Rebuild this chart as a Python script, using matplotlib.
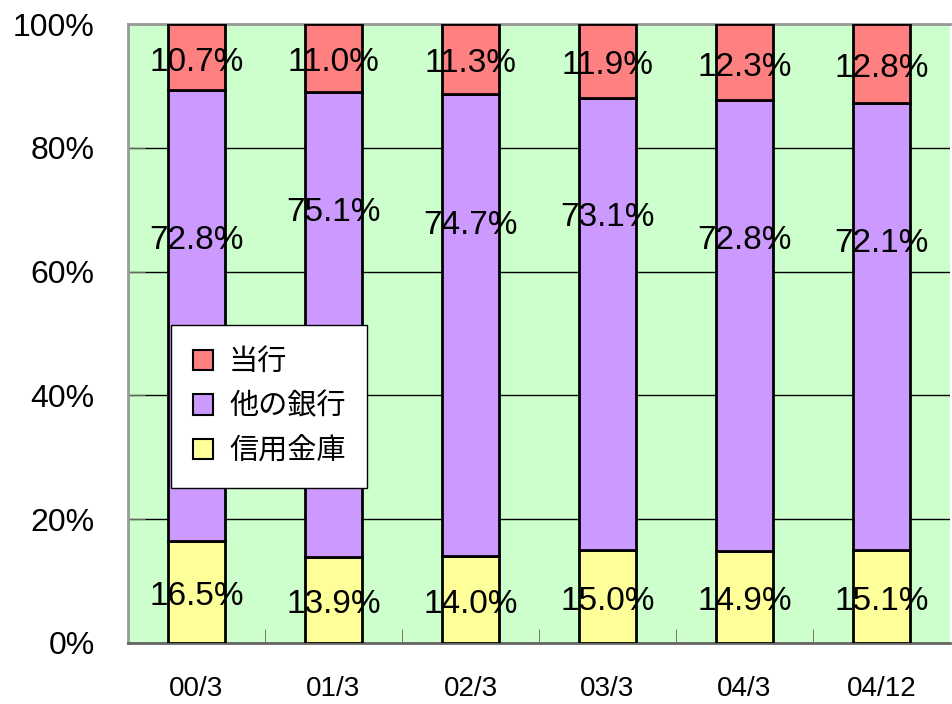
import matplotlib
matplotlib.use("Agg")
import matplotlib.pyplot as plt
import numpy as np

plt.rcParams['font.family'] = ['Liberation Sans', 'Noto Sans CJK JP', 'DejaVu Sans']

periods = ["00/3", "01/3", "02/3", "03/3", "04/3", "04/12"]
shinkin = [16.5, 13.9, 14.0, 15.0, 14.9, 15.1]
other_banks = [72.8, 75.1, 74.7, 73.1, 72.8, 72.1]
our_bank = [10.7, 11.0, 11.3, 11.9, 12.3, 12.8]
# where the middle labels sit in the original (percent height)
mid_label_y = [65.0, 69.6, 67.5, 68.7, 65.1, 64.6]

series = [("信用金庫", shinkin, "#FFFF99"),
          ("他の銀行", other_banks, "#CC99FF"),
          ("当行", our_bank, "#FF8080")]

fig = plt.figure(figsize=(9.53, 7.04), dpi=100)
ax = fig.add_axes([128/953, 1-643/704, 822/953, 619/704])
ax.set_facecolor("#CCFFCC")

x = np.arange(len(periods))
bottom = np.zeros(len(periods))
handles = {}
for name, vals, col in series:
    vals = np.array(vals)
    b = ax.bar(x, vals, width=0.41, bottom=bottom, color=col,
               edgecolor="black", linewidth=2, zorder=3)
    handles[name] = b
    for i, (v, b0) in enumerate(zip(vals, bottom)):
        ypos = mid_label_y[i] if name == "他の銀行" else b0 + v / 2 - 0.8
        ax.text(x[i], ypos, f"{v:.1f}%", ha="center", va="center",
                fontsize=24, zorder=4)
    bottom += vals

ax.set_xlim(-0.5, len(periods) - 0.5)
ax.set_ylim(0, 100)
ax.set_yticks([0, 20, 40, 60, 80, 100])
ax.set_yticklabels([f"{v}%" for v in [0, 20, 40, 60, 80, 100]], fontsize=23)
ax.set_xticks(x)
ax.set_xticklabels(periods, fontsize=20)
ax.set_xticks(np.arange(0.5, len(periods) - 0.5), minor=True)
ax.tick_params(axis="x", which="major", length=0, pad=24)
ax.tick_params(axis="x", which="minor", direction="in", length=10, color="#666666")
ax.tick_params(axis="y", direction="in", length=12, color="#666666", pad=24)
ax.yaxis.grid(True, color="black", linewidth=1, zorder=1)
ax.set_axisbelow(True)

for s in ["top", "left"]:
    ax.spines[s].set_color("#999999")
    ax.spines[s].set_linewidth(2)
ax.spines["bottom"].set_color("#666666")
ax.spines["bottom"].set_linewidth(2)
ax.spines["right"].set_visible(False)

leg = ax.legend([handles["当行"], handles["他の銀行"], handles["信用金庫"]],
                ["当行", "他の銀行", "信用金庫"],
                loc="lower left", bbox_to_anchor=(0.052, 0.25), borderaxespad=0,
                fancybox=False, framealpha=1, edgecolor="black",
                prop={"family": ["Noto Sans CJK JP"], "size": 21},
                handlelength=0.7, handleheight=0.7, labelspacing=0.5,
                borderpad=0.75, handletextpad=0.55)
leg.get_frame().set_linewidth(1)
for h in leg.legend_handles:
    h.set_linewidth(1.5)
leg.set_zorder(5)

plt.savefig("out.png", dpi=100)
plt.close()
